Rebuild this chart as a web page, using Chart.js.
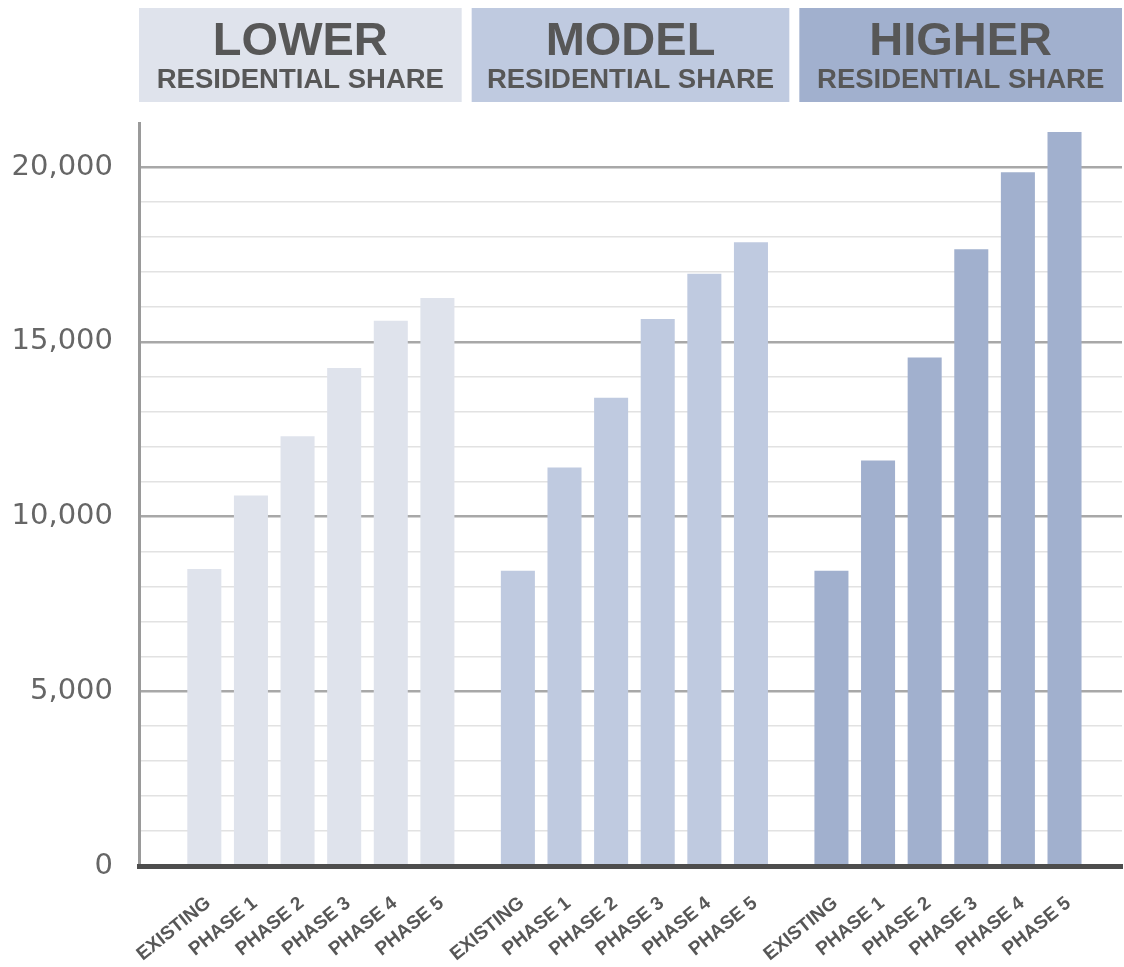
<!DOCTYPE html>
<html>
<head>
<meta charset="utf-8">
<script src="https://cdn.jsdelivr.net/npm/chart.js@4"></script>
<style>
  body { margin: 0; background: #fff; }
</style>
</head>
<body>
<canvas id="grafica" width="1124" height="967"></canvas>
<script>
// datos basicos
const grupos = ['LOWER', 'MODEL', 'HIGHER']
const subtitulo = 'RESIDENTIAL SHARE'
const fases = ['EXISTING', 'PHASE 1', 'PHASE 2', 'PHASE 3', 'PHASE 4', 'PHASE 5']
const lower = [8500, 10600, 12300, 14250, 15600, 16250]
const model = [8450, 11400, 13400, 15650, 16950, 17850]
const higher = [8450, 11600, 14550, 17650, 19850, 21000]
// lineas cada 1000, etiqueta cada 5000
const marcasY = Array.from({ length: 21 }, (v, i) => i * 1000)
const colores = ['#dfe3ec', '#bfcae0', '#a1b0ce']
const textoGris = '#575757'

const series = [lower, model, higher]

// un dataset por fase, agrupado por escenario
const datasets = fases.map((fase, i) => ({
  label: fase,
  data: series.map((s, g) => ({ x: g, y: s[i] })),
  backgroundColor: colores,
  categoryPercentage: 0.892,
  barPercentage: 0.73
}))

// cajas de titulo arriba de cada grupo
const cabeceras = {
  id: 'cabeceras',
  beforeDraw(chart) {
    const ctx = chart.ctx
    const area = chart.chartArea
    const tercio = (area.right - area.left) / 3
    ctx.save()
    grupos.forEach((g, k) => {
      const x0 = area.left + k * tercio + (k > 0 ? 5 : 0)
      const x1 = area.left + (k + 1) * tercio - (k < 2 ? 5 : 0)
      ctx.fillStyle = colores[k]
      ctx.fillRect(x0, 8, x1 - x0, 94)
      ctx.fillStyle = textoGris
      ctx.textAlign = 'center'
      ctx.textBaseline = 'alphabetic'
      ctx.font = 'bold 47px "Liberation Sans", Arial, sans-serif'
      ctx.fillText(g, (x0 + x1) / 2, 55)
      ctx.font = 'bold 27.5px "Liberation Sans", Arial, sans-serif'
      ctx.fillText(subtitulo, (x0 + x1) / 2, 88)
    })
    ctx.restore()
  }
}

// etiquetas giradas bajo cada barra
const etiquetas = {
  id: 'etiquetas',
  afterDraw(chart) {
    const ctx = chart.ctx
    ctx.save()
    ctx.fillStyle = textoGris
    ctx.font = 'bold 19px "Liberation Sans", Arial, sans-serif'
    ctx.textAlign = 'right'
    ctx.textBaseline = 'middle'
    fases.forEach((fase, i) => {
      chart.getDatasetMeta(i).data.forEach(bar => {
        ctx.save()
        ctx.translate(bar.x + 4, 901)
        ctx.rotate(-39 * Math.PI / 180)
        ctx.fillText(fase, 0, 0)
        ctx.restore()
      })
    })
    ctx.restore()
  }
}

new Chart(document.getElementById('grafica'), {
  type: 'bar',
  data: { datasets },
  plugins: [cabeceras, etiquetas],
  options: {
    responsive: false,
    animation: false,
    devicePixelRatio: 1,
    layout: { padding: { top: 123, right: 2, bottom: 101, left: 0 } },
    plugins: { legend: { display: false }, tooltip: { enabled: false } },
    scales: {
      x: {
        type: 'linear',
        offset: false,
        min: -0.58,
        max: 2.555,
        // un tick por grupo, asi el ancho de barra sale del espacio entre grupos
        afterBuildTicks: scale => {
          scale.ticks = grupos.map((g, k) => ({ value: k }))
        },
        ticks: { display: false },
        grid: { display: false, drawTicks: false },
        border: { display: true, color: '#4d4d4d', width: 5, z: 1 }
      },
      y: {
        min: 0,
        max: 21260,
        afterBuildTicks: scale => {
          scale.ticks = marcasY.map(v => ({ value: v }))
        },
        afterFit: scale => { scale.width = 139 },
        ticks: {
          autoSkip: false,
          padding: 26,
          color: '#666',
          font: { family: '"DejaVu Sans", sans-serif', size: 29 },
          callback: v => v % 5000 === 0 ? v.toLocaleString('en-US') : ''
        },
        grid: {
          drawTicks: false,
          color: c => c.tick.value === 0 ? 'rgba(0,0,0,0)' : (c.tick.value % 5000 === 0 ? '#a8a8a8' : '#e2e2e2'),
          lineWidth: c => c.tick.value % 5000 === 0 ? 2.5 : 1.5
        },
        border: { color: '#9a9a9a', width: 3 }
      }
    }
  }
})
</script>
</body>
</html>
